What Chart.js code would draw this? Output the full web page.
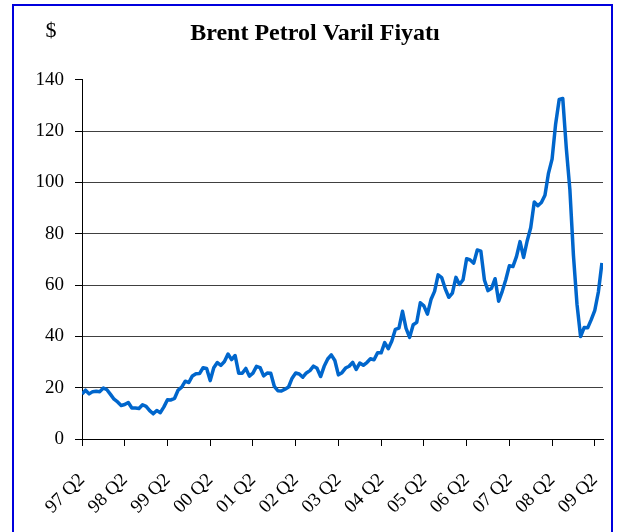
<!DOCTYPE html>
<html><head><meta charset="utf-8">
<script src="https://cdn.jsdelivr.net/npm/chart.js@4"></script>
<style>
html,body{margin:0;padding:0;background:#fff;overflow:hidden}
#wrap{position:relative;width:627px;height:532px}
#frame{position:absolute;left:12px;top:4px;width:597px;height:600px;border:2px solid #0000dd;pointer-events:none}
canvas{position:absolute;left:0;top:0}
</style></head><body>
<div id="wrap"><canvas id="c" width="627" height="532"></canvas><div id="frame"></div></div>
<script>
const chartTitle = 'Brent Petrol Varil Fiyatı';
const unitLabel = '$';
const tickLabels = ['97 Q2','98 Q2','99 Q2','00 Q2','01 Q2','02 Q2','03 Q2','04 Q2','05 Q2','06 Q2','07 Q2','08 Q2','09 Q2'];
const tickMonths = [0,12,24,36,48,60,72,84,96,108,120,132,144];
const yTicks = [0,20,40,60,80,100,120,140];

// Monthly Brent prices, $/barrel (Apr 1997 .. Jun 2009)
const p1997 = [17.56,19.02,17.58,18.46,18.60,18.46,19.87,19.18,17.40];
const p1998 = [15.51,14.46,13.07,13.42,14.21,12.08,12.05,11.91,13.34,12.71,11.04,9.82];
const p1999 = [11.12,10.27,12.51,15.29,15.23,15.86,19.08,20.22,22.54,22.01,24.59,25.47];
const p2000 = [25.51,27.78,27.49,22.76,27.74,29.80,28.68,30.20,33.14,30.96,32.55,25.66];
const p2001 = [25.62,27.50,24.50,25.66,28.31,27.85,24.61,25.68,25.62,20.54,18.80,18.71];
const p2002 = [19.42,20.28,23.70,25.73,25.35,24.08,25.74,26.65,28.40,27.54,24.34,28.33];
const p2003 = [31.18,32.77,30.61,25.00,25.86,27.65,28.35,29.89,27.11,29.61,28.75,29.81];
const p2004 = [31.28,30.86,33.63,33.59,37.57,35.18,38.22,42.74,43.20,49.78,43.11,39.60];
const p2005 = [44.51,45.48,53.10,51.88,48.65,54.35,57.52,63.98,62.91,58.54,55.24,56.86];
const p2006 = [62.99,60.21,62.06,70.26,69.78,68.56,73.67,73.23,61.96,57.81,58.76,62.47];
const p2007 = [53.68,57.56,62.05,67.49,67.21,71.05,76.93,70.76,77.17,82.34,92.41,90.93];
const p2008 = [92.18,94.99,103.64,109.07,122.80,132.32,132.72,113.24,97.23,71.58,52.45,39.95];
const p2009 = [43.44,43.32,46.54,50.18,57.30,68.61];

const prices = [].concat(p1997,p1998,p1999,p2000,p2001,p2002,p2003,p2004,p2005,p2006,p2007,p2008,p2009);
const points = prices.map((v,i)=>({x:i,y:v}));

const serif = '"Liberation Serif","Times New Roman",serif';

const dollarPlugin = {
  id:'dollar',
  afterDraw(chart){
    const c = chart.ctx;
    c.save();
    c.font = '22px ' + serif;
    c.fillStyle = '#000';
    c.textAlign = 'center';
    c.textBaseline = 'alphabetic';
    c.fillText(unitLabel, 51, 37);
    c.restore();
  }
};

new Chart(document.getElementById('c'), {
  type:'line',
  data:{datasets:[{
    data:points,
    borderColor:'#0066cc',
    borderWidth:3.5,
    pointRadius:0,
    tension:0,
    fill:false,
    borderJoinStyle:'round'
  }]},
  options:{
    responsive:false,
    animation:false,
    devicePixelRatio:1,
    layout:{padding:{left:27,right:24,top:0,bottom:0}},
    plugins:{
      legend:{display:false},
      tooltip:{enabled:false},
      title:{display:true,text:chartTitle,color:'#000',
        font:{family:serif,size:24,weight:'bold'},
        padding:{top:19,bottom:32}}
    },
    scales:{
      x:{
        type:'linear',
        min:0,max:146.3,
        afterBuildTicks:s=>{s.ticks = tickMonths.map(v=>({value:v}));},
        afterFit:s=>{s.height = 93; s.paddingRight = 0; s.paddingLeft = 0;},
        grid:{drawOnChartArea:false,drawTicks:true,tickLength:7,tickColor:'#000',color:'#000'},
        border:{display:true,color:'#000',width:1},
        ticks:{
          autoSkip:false,minRotation:45,maxRotation:45,padding:23,
          color:'#000',font:{family:serif,size:19},
          callback:(v)=>{const k=tickMonths.indexOf(v);return k>=0?tickLabels[k]:'';}
        }
      },
      y:{
        min:0,max:140,
        afterBuildTicks:s=>{s.ticks = yTicks.map(v=>({value:v}));},
        afterFit:s=>{s.width = 55;},
        grid:{color:c=>c.tick && c.tick.value===140?'rgba(0,0,0,0)':'#404040',lineWidth:1,tickLength:7,tickColor:'#000'},
        border:{display:true,color:'#000',width:1},
        ticks:{padding:11,color:'#000',font:{family:serif,size:19}}
      }
    }
  },
  plugins:[dollarPlugin]
});
</script>
</body></html>
